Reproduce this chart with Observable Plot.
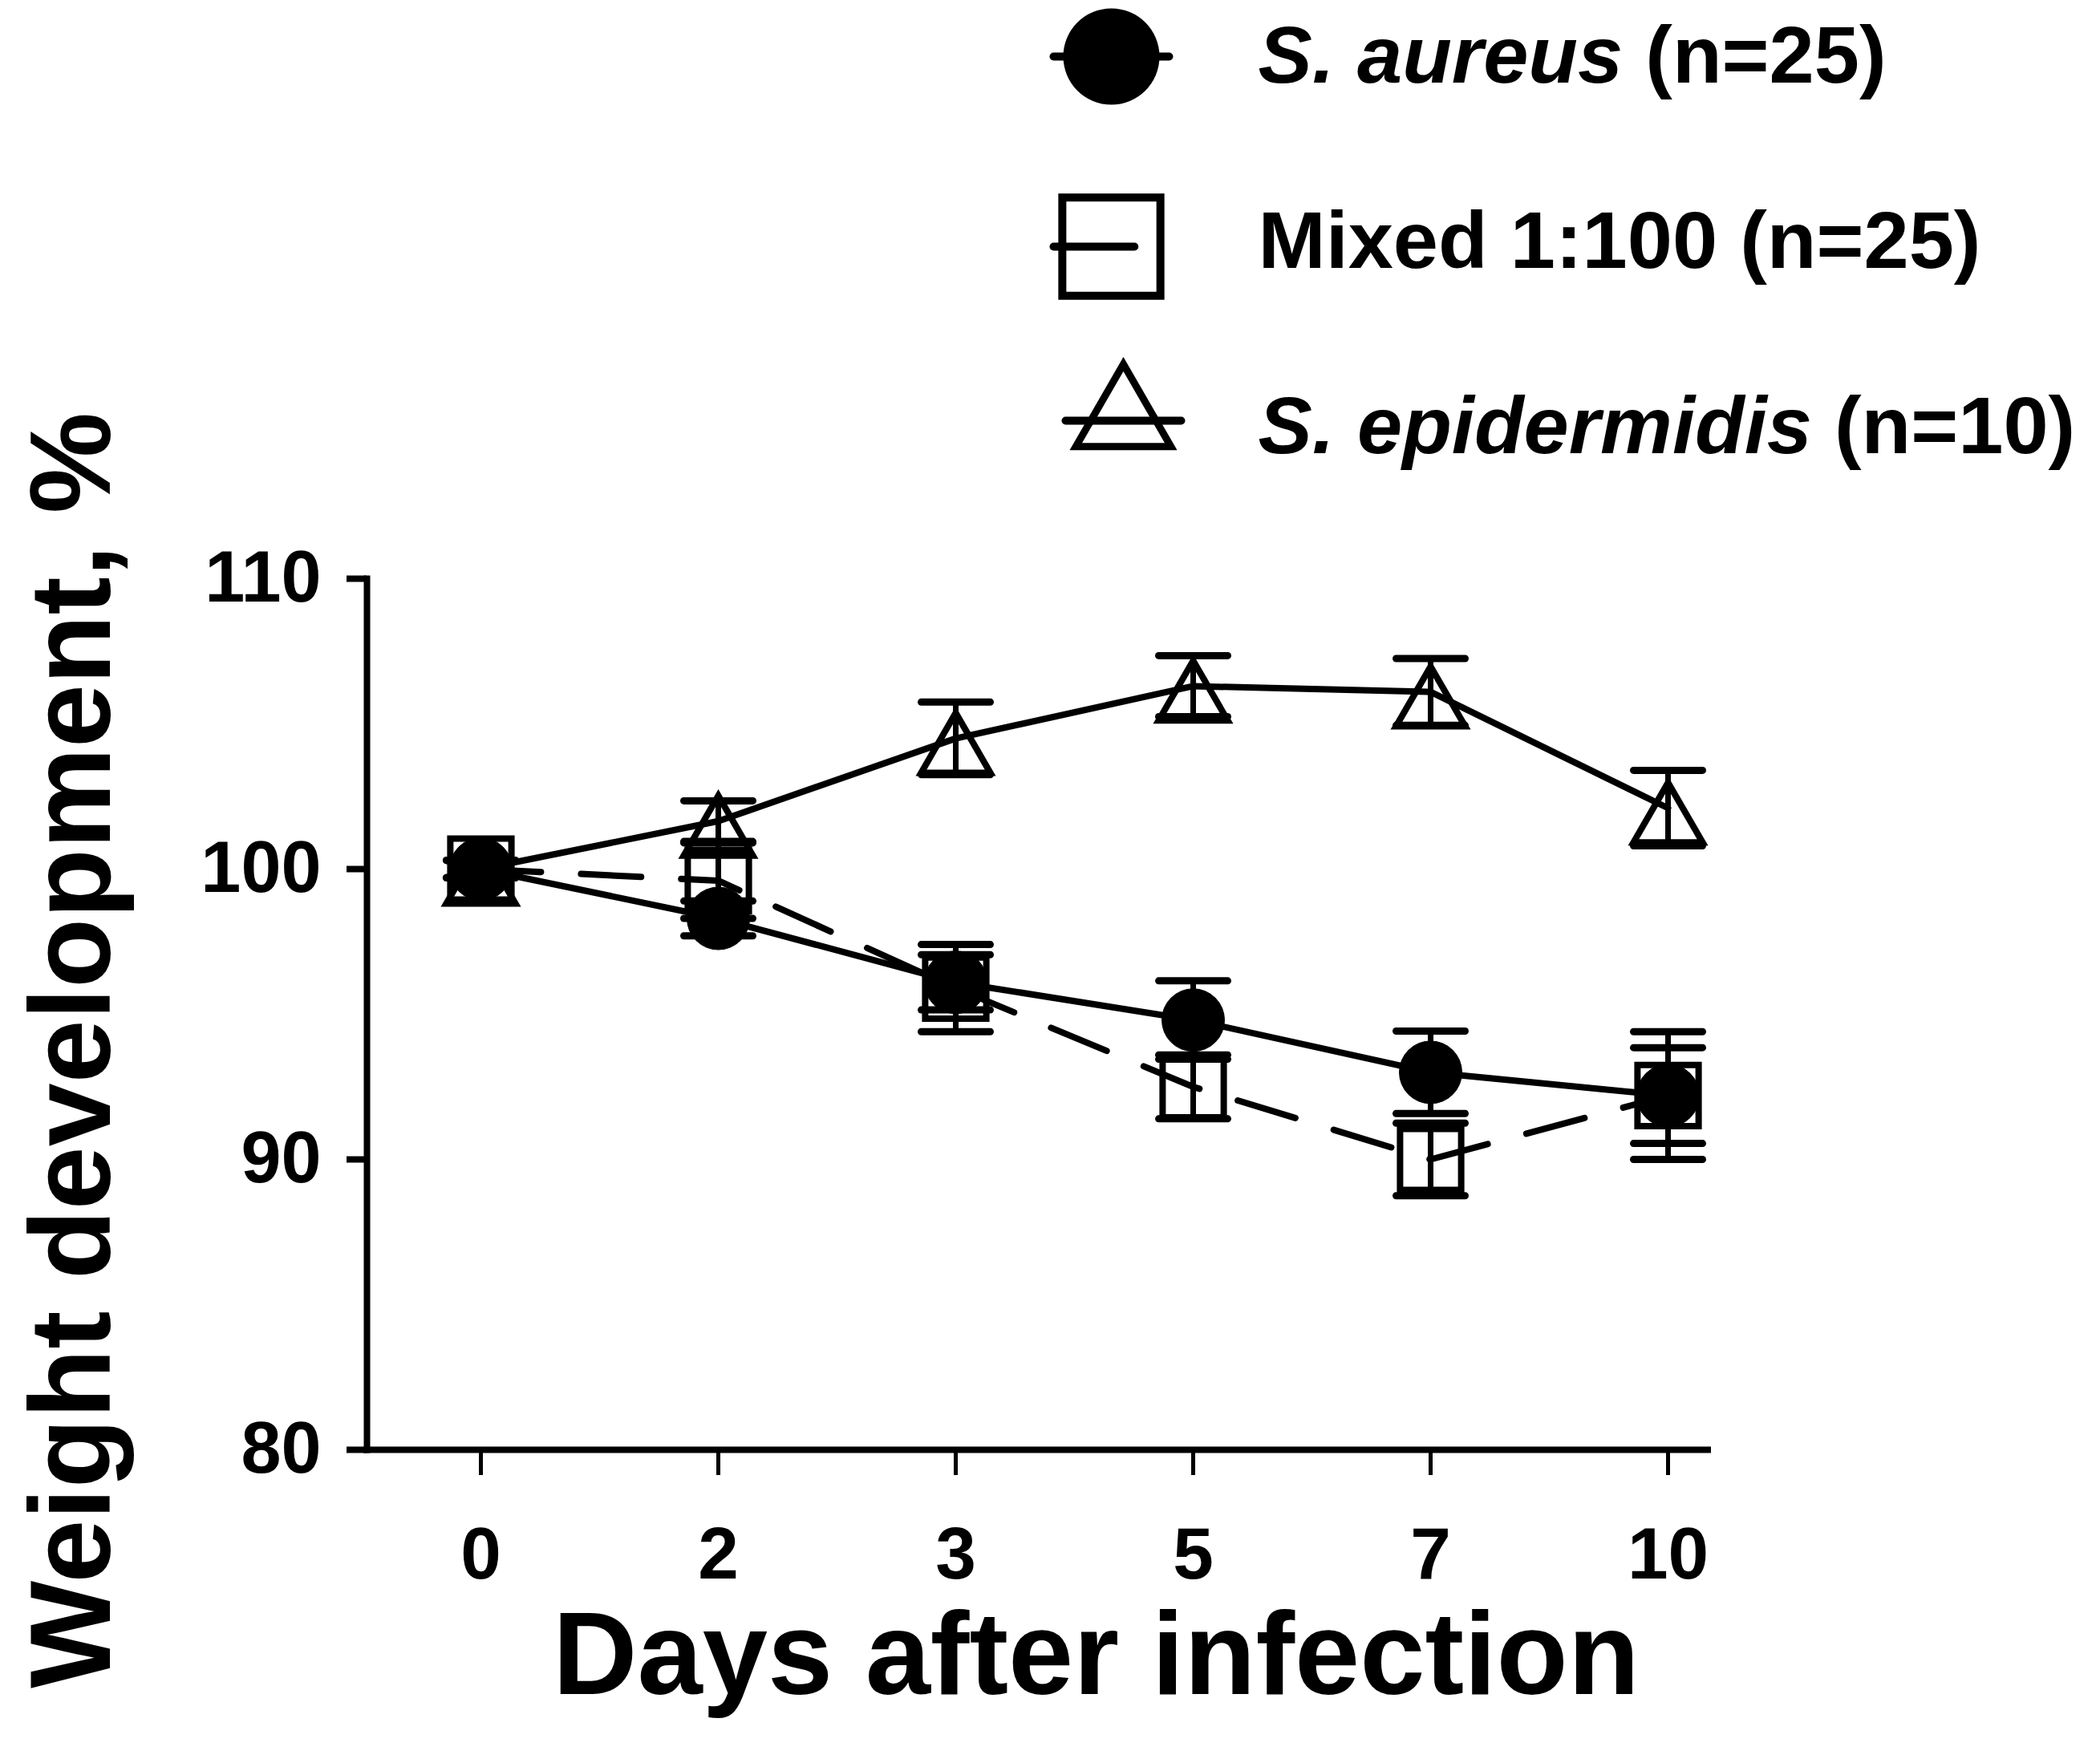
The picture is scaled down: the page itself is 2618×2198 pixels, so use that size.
<!DOCTYPE html>
<html><head><meta charset="utf-8">
<script src="https://cdn.jsdelivr.net/npm/d3@7"></script>
<script src="https://cdn.jsdelivr.net/npm/@observablehq/plot@0.6"></script>
<style>
html,body{margin:0;padding:0;background:#fff;}
#wrap{position:relative;width:2618px;height:2198px;background:#fff;}
#chart{position:absolute;left:0;top:0;}
#legend{position:absolute;left:1250px;top:0;}
</style></head><body><div id="wrap"><div id="chart"></div><div id="legend"></div></div>
<script>
// ---- data ----
const days = ["0", "2", "3", "5", "7", "10"];
const aureus     = [100, 98.3, 96.1, 94.8, 93.0, 92.2];
const aureusSem  = [0.3, 0.6, 0.95, 1.35, 1.42, 1.65];
const mixed      = [100, 99.6, 95.9, 92.5, 90.0, 92.2];
const mixedSem   = [0.3, 1.3, 1.5, 1.1, 1.25, 2.2];
const epi        = [100, 101.65, 104.5, 106.3, 106.1, 102.1];
const epiSem     = [0.3, 0.7, 1.25, 1.05, 1.15, 1.3];
const yTicks     = [80, 90, 100, 110];
const seriesNames = ["S. aureus (n=25)", "Mixed 1:100 (n=25)", "S. epidermidis (n=10)"];
const italicParts = ["S. aureus", "", "S. epidermidis"];
const xTitle = "Days after infection";
const yTitle = "Weight development, %";

const rows = (vals, sems) => days.map((d, i) => ({day: d, v: vals[i], lo: vals[i] - sems[i], hi: vals[i] + sems[i]}));
const A = rows(aureus, aureusSem), M = rows(mixed, mixedSem), E = rows(epi, epiSem);

// custom symbols: error-bar cap and legend line samples
const hbar = {draw(ctx, size) { const r = Math.sqrt(size / Math.PI); ctx.moveTo(-r, 0); ctx.lineTo(r, 0); }};
const leftbar = {draw(ctx, size) { const r = Math.sqrt(size / Math.PI); ctx.moveTo(-r, 0); ctx.lineTo(0.4 * r, 0); }};

const font = '"Liberation Sans", Arial, Helvetica, sans-serif';

const errMarks = (data) => [
  Plot.ruleX(data, {x: "day", y1: "lo", y2: "hi", stroke: "black", strokeWidth: 7}),
  Plot.dot(data, {x: "day", y: "hi", symbol: hbar, r: 43, fill: "none", stroke: "black", strokeWidth: 9, strokeLinecap: "round"}),
  Plot.dot(data, {x: "day", y: "lo", symbol: hbar, r: 43, fill: "none", stroke: "black", strokeWidth: 9, strokeLinecap: "round"})
];

const chart = Plot.plot({
  width: 2618, height: 2198,
  marginLeft: 457, marginRight: 489, marginTop: 721, marginBottom: 391,
  style: {fontFamily: font, fontWeight: "bold", background: "white", color: "black"},
  x: {type: "point", domain: days, padding: 0.3227, align: 0.738},
  y: {domain: [80, 110]},
  marks: [
    Plot.line(A, {x: "day", y: "v", stroke: "black", strokeWidth: 8}),
    Plot.line(M, {x: "day", y: "v", stroke: "black", strokeWidth: 8, strokeDasharray: "75,50"}),
    Plot.line(E, {x: "day", y: "v", stroke: "black", strokeWidth: 8}),
    ...errMarks(E), ...errMarks(M), ...errMarks(A),
    Plot.dot(E, {x: "day", y: "v", symbol: "triangle", r: 32, fill: "none", stroke: "black", strokeWidth: 8, dy: 18}),
    Plot.dot(M, {x: "day", y: "v", symbol: "square", r: 43, fill: "none", stroke: "black", strokeWidth: 8}),
    Plot.dot(A, {x: "day", y: "v", r: 39, fill: "black", stroke: "black", strokeWidth: 1}),
    Plot.ruleY([80], {stroke: "black", strokeWidth: 8, strokeLinecap: "square"}),
    Plot.frame({anchor: "left", stroke: "black", strokeWidth: 8, strokeLinecap: "square"}),
    Plot.axisY({ticks: yTicks, tickSize: 25, tickPadding: 32, strokeWidth: 8, fontSize: 90, fontWeight: "bold", label: null}),
    Plot.axisX({tickSize: 32, tickPadding: 64, strokeWidth: 5, fontSize: 91, fontWeight: "bold", label: null}),
    Plot.text([xTitle], {frameAnchor: "bottom", dx: 73, dy: 258, fontSize: 146, fontWeight: "bold", textAnchor: "middle", lineAnchor: "middle", fill: "black"}),
    Plot.text([yTitle], {frameAnchor: "left", rotate: -90, dx: -366, dy: 45, fontSize: 142, fontWeight: "bold", textAnchor: "middle", lineAnchor: "middle", fill: "black"})
  ]
});
document.getElementById("chart").appendChild(chart);

const legend = Plot.plot({
  width: 1368, height: 620, margin: 0,
  style: {fontFamily: font, fontWeight: "bold", background: "transparent", color: "black"},
  y: {type: "point", domain: seriesNames, range: [70, 532], padding: 0, axis: null},
  marks: [
    Plot.dot([seriesNames[0]], {y: d => d, frameAnchor: "left", dx: 135, symbol: hbar, r: 72, fill: "none", stroke: "black", strokeWidth: 10, strokeLinecap: "round"}),
    Plot.dot([seriesNames[0]], {y: d => d, frameAnchor: "left", dx: 135, r: 60, fill: "black"}),
    Plot.dot([seriesNames[1]], {y: d => d, frameAnchor: "left", dx: 135, symbol: leftbar, r: 72, fill: "none", stroke: "black", strokeWidth: 10, strokeLinecap: "round", dy: 6}),
    Plot.dot([seriesNames[1]], {y: d => d, frameAnchor: "left", dx: 135, symbol: "square", r: 69, fill: "none", stroke: "black", strokeWidth: 10, dy: 6}),
    Plot.dot([seriesNames[2]], {y: d => d, frameAnchor: "left", dx: 150, symbol: hbar, r: 72, fill: "none", stroke: "black", strokeWidth: 10, strokeLinecap: "round", dy: -8}),
    Plot.dot([seriesNames[2]], {y: d => d, frameAnchor: "left", dx: 150, symbol: "triangle", r: 44, fill: "none", stroke: "black", strokeWidth: 9, dy: -10}),
    Plot.text(seriesNames, {y: d => d, text: d => d, frameAnchor: "left", dx: 318, textAnchor: "start", lineAnchor: "middle", fontSize: 101, fontWeight: "bold", fill: "black"})
  ]
});
d3.select(legend).selectAll("text").each(function() {
  const t = this.textContent;
  const i = seriesNames.indexOf(t);
  if (i >= 0 && italicParts[i]) {
    const rest = t.slice(italicParts[i].length);
    this.textContent = "";
    d3.select(this).append("tspan").attr("font-style", "italic").text(italicParts[i]);
    d3.select(this).append("tspan").text(rest);
  }
});
document.getElementById("legend").appendChild(legend);
</script></body></html>
